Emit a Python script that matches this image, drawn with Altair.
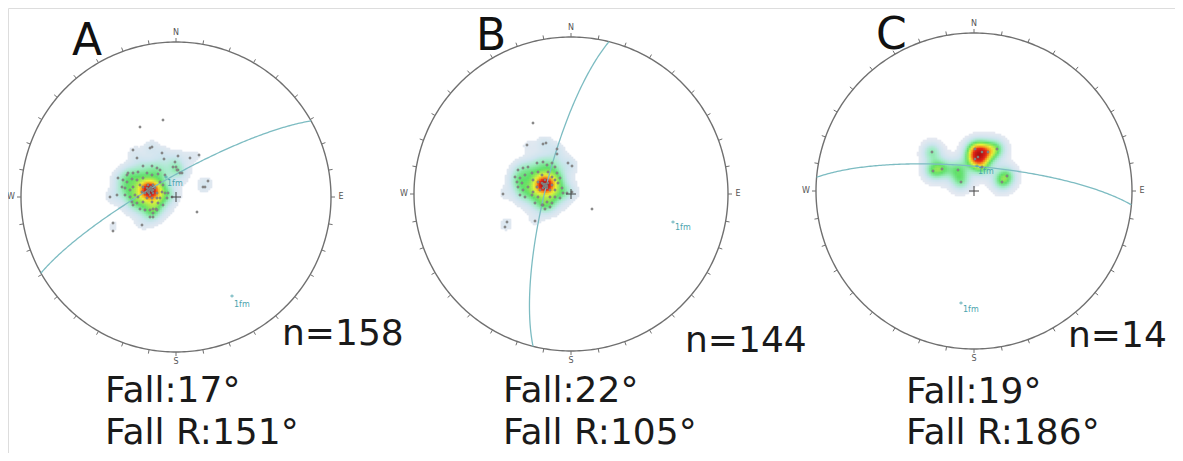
import numpy as np
import pandas as pd
import altair as alt

# ---------------- data (page pixel coordinates) ----------------
panels = ["A", "B", "C"]
count_labels = ["n=158", "n=144", "n=14"]
fall_labels = ["Fall:17°", "Fall:22°", "Fall:19°"]
fall_r_labels = ["Fall R:151°", "Fall R:105°", "Fall R:186°"]

# great circle of each panel: dip direction and dip (degrees)
plane_dipdir = [330.6, 284.0, 5.0]
plane_dip = [79.6, 76.6, 77.3]

poles_A = [
    (163, 120), (140, 127), (150, 148), (152, 147), (133, 150), (162, 153), (137, 158),
    (178, 156), (164, 159), (175, 162), (190, 158), (199, 155), (176, 167), (178, 170),
    (182, 173), (127, 175), (118, 178), (208, 181), (203, 187), (205, 187), (110, 197),
    (197, 212), (113, 223), (113, 231), (142, 225), (153, 209), (156, 209), (133, 205),
    (143, 166), (152, 166), (157, 168), (160, 170), (173, 167), (177, 170), (180, 173),
    (128, 173), (133, 173), (138, 172), (147, 173), (152, 175), (158, 174), (165, 175),
    (123, 180), (127, 182), (132, 179), (137, 180), (143, 178), (160, 182), (163, 185),
    (122, 187), (125, 188), (130, 190), (133, 187), (162, 192), (165, 193), (168, 193),
    (117, 195), (125, 195), (130, 197), (135, 195), (160, 198), (167, 198), (172, 197),
    (132, 202), (137, 203), (143, 202), (152, 202), (158, 203), (163, 205),
    (140, 209), (145, 210), (150, 210), (153, 213), (157, 210), (150, 217), (153, 217),
    (143, 187), (147, 188), (148, 192), (152, 190), (153, 193), (150, 195), (145, 193),
    (155, 188), (142, 192), (157, 193), (148, 185), (153, 185), (140, 185), (138, 197),
    (157, 198), (147, 198), (152, 198), (150, 190), (149, 191), (151, 189), (148, 189),
    (152, 191), (150, 188), (147, 191), (153, 190), (149, 193), (151, 187),
]
poles_B = [
    (533, 123), (543, 144), (546, 143), (527, 145), (557, 149), (557, 154), (568, 163),
    (572, 166), (503, 194), (507, 222), (505, 227), (535, 221), (543, 205), (545, 209),
    (550, 207), (592, 209),
    (518, 170), (523, 168), (528, 167), (537, 163), (543, 162), (547, 165), (552, 163),
    (555, 167), (515, 177), (520, 178), (517, 182), (522, 183), (525, 175), (532, 173),
    (538, 172), (548, 172), (557, 173), (560, 178), (518, 187), (523, 190), (528, 187),
    (558, 183), (562, 188), (563, 193), (520, 195), (525, 197), (532, 195), (555, 197),
    (560, 198), (567, 193), (572, 192), (535, 203), (542, 205), (547, 202), (552, 203),
    (533, 180), (555, 180), (533, 192), (555, 190), (538, 197), (550, 197), (542, 175),
    (552, 177),
    (538, 182), (542, 183), (545, 185), (548, 183), (543, 188), (547, 188), (540, 190),
    (550, 190), (545, 180), (537, 187), (552, 185), (545, 185), (544, 186), (546, 184),
    (543, 184), (547, 186), (545, 187), (546, 186), (544, 184),
]
poles_C = [
    (932, 152), (933, 171), (942, 169), (958, 170), (961, 182), (975, 149), (982, 152),
    (988, 152), (997, 149), (978, 157), (975, 159), (1007, 176), (1002, 182), (982, 167),
]
poles = [poles_A, poles_B, poles_C]

# ---------------- layout / style ----------------
net_center = [(176, 197), (571, 194), (974, 191)]
net_radius = [155, 157, 158]
kde_bw_small = [5.5, 5.5, 6.5]
kde_bw_large = [13.0, 13.0, 10.0]
kde_mix = [0.3, 0.3, 0.35]
kde_cut = [0.07, 0.07, 0.05]
letter_pos = [(72, 55), (476, 50), (876, 49)]
count_pos = [(282, 345), (685, 352), (1068, 347)]
fall_pos = [(105, 402), (503, 402), (906, 403)]
fall_r_pos = [(105, 444), (503, 444), (906, 444)]
fm_marks = [(166, 177, 167, 186), (232, 296, 234, 307),
            (673, 222, 675, 230),
            (977, 166, 978, 174), (961, 303, 963, 312)]


def kernel_sum(P, X, Y, h):
    D = np.zeros_like(X)
    for px, py in P:
        D += np.exp(-((X - px) ** 2 + (Y - py) ** 2) / (2 * h * h))
    return D / D.max()


dens_rows, circ_rows, tick_rows, gc_rows, pt_rows, cross_rows, card_rows = [], [], [], [], [], [], []
step = 2.0
for k, p in enumerate(panels):
    cx, cy = net_center[k]
    R = net_radius[k]
    P = np.array(poles[k], dtype=float)
    hl = kde_bw_large[k]
    xs = np.arange(P[:, 0].min() - 3 * hl, P[:, 0].max() + 3 * hl, step)
    ys = np.arange(P[:, 1].min() - 3 * hl, P[:, 1].max() + 3 * hl, step)
    X, Y = np.meshgrid(xs, ys)
    w = kde_mix[k]
    D = (1 - w) * kernel_sum(P, X, Y, kde_bw_small[k]) + w * kernel_sum(P, X, Y, hl)
    D /= D.max()
    m = (D > kde_cut[k]) & ((X - cx) ** 2 + (Y - cy) ** 2 < R * R)
    for x, y, d in zip(X[m], Y[m], D[m]):
        dens_rows.append(dict(panel=p, x=x - step / 2 - 0.3, x2=x + step / 2 + 0.3,
                              y=y - step / 2 - 0.3, y2=y + step / 2 + 0.3, d=d))
    for i, a in enumerate(np.radians(np.arange(0, 361, 1))):
        circ_rows.append(dict(panel=p, i=i, x=cx + R * np.sin(a), y=cy - R * np.cos(a)))
    for a in np.radians(np.arange(0, 360, 10)):
        tick_rows.append(dict(x=cx + R * np.sin(a), y=cy - R * np.cos(a),
                              x2=cx + (R + 4) * np.sin(a), y2=cy - (R + 4) * np.cos(a)))
    dd, dip = np.radians(plane_dipdir[k]), np.radians(plane_dip[k])
    st = dd - np.pi / 2
    S = np.array([np.cos(st), np.sin(st), 0.0])
    Dv = np.array([np.cos(dip) * np.cos(dd), np.cos(dip) * np.sin(dd), np.sin(dip)])
    t = np.linspace(0, np.pi, 181)
    V = np.outer(np.cos(t), S) + np.outer(np.sin(t), Dv)
    plunge = np.arcsin(np.clip(V[:, 2], -1, 1))
    trend = np.arctan2(V[:, 1], V[:, 0])
    rho = np.sqrt(2) * np.sin((np.pi / 2 - plunge) / 2)
    for i in range(len(t)):
        gc_rows.append(dict(panel=p, i=i, x=cx + R * rho[i] * np.sin(trend[i]),
                            y=cy - R * rho[i] * np.cos(trend[i])))
    for px, py in P:
        pt_rows.append(dict(panel=p, x=px, y=py))
    cross_rows += [dict(x=cx - 5, x2=cx + 5, y=cy, y2=cy), dict(x=cx, x2=cx, y=cy - 5, y2=cy + 5)]
    card_rows += [dict(t="N", x=cx, y=cy - R - 9), dict(t="S", x=cx, y=cy + R + 10),
                  dict(t="W", x=cx - R - 10, y=cy), dict(t="E", x=cx + R + 10, y=cy)]

dens = pd.DataFrame(dens_rows)
circ = pd.DataFrame(circ_rows)
ticks = pd.DataFrame(tick_rows)
gc = pd.DataFrame(gc_rows)
pts = pd.DataFrame(pt_rows)
cross = pd.DataFrame(cross_rows)
card = pd.DataFrame(card_rows)
fm_pts = pd.DataFrame([dict(x=a, y=b) for a, b, _, _ in fm_marks])
fm_txt = pd.DataFrame([dict(x=c, y=d, t="1fm") for _, _, c, d in fm_marks])
letters = pd.DataFrame([dict(x=letter_pos[k][0], y=letter_pos[k][1], t=panels[k]) for k in range(3)])
big = pd.DataFrame(
    [dict(x=count_pos[k][0], y=count_pos[k][1], t=count_labels[k]) for k in range(3)]
    + [dict(x=fall_pos[k][0], y=fall_pos[k][1], t=fall_labels[k]) for k in range(3)]
    + [dict(x=fall_r_pos[k][0], y=fall_r_pos[k][1], t=fall_r_labels[k]) for k in range(3)]
)

xsc = alt.Scale(domain=[8, 1175], nice=False, zero=False)
ysc = alt.Scale(domain=[8, 453], nice=False, zero=False, reverse=True)
X = alt.X("x:Q", scale=xsc, axis=None)
Y = alt.Y("y:Q", scale=ysc, axis=None)
X2 = alt.X2("x2:Q")
Y2 = alt.Y2("y2:Q")
FONT = "DejaVu Sans"

dens_layer = alt.Chart(dens).mark_rect(strokeWidth=0).encode(
    x=X, x2=X2, y=Y, y2=Y2,
    color=alt.Color("d:Q", legend=None, scale=alt.Scale(
        domain=[0.05, 0.16, 0.26, 0.38, 0.55, 0.68, 0.8, 1.0],
        range=["#e6e9f1", "#cde4ee", "#a2ecc6", "#5fe06a", "#e8f23a", "#f5a020", "#e82a1a", "#b01010"],
        interpolate="rgb", clamp=True)),
)
circ_layer = alt.Chart(circ).mark_line(color="#707070", strokeWidth=1.4).encode(
    x=X, y=Y, order="i:Q", detail="panel:N")
tick_layer = alt.Chart(ticks).mark_rule(color="#707070", strokeWidth=1).encode(x=X, y=Y, x2=X2, y2=Y2)
gc_layer = alt.Chart(gc).mark_line(color="#7dbcc2", strokeWidth=1.3).encode(
    x=X, y=Y, order="i:Q", detail="panel:N")
pt_layer = alt.Chart(pts).mark_circle(size=6, color="#8c8c8c", opacity=0.95, stroke="#6a6a6a",
                                      strokeWidth=0.3).encode(x=X, y=Y)
cross_layer = alt.Chart(cross).mark_rule(color="#444444", strokeWidth=1).encode(x=X, y=Y, x2=X2, y2=Y2)
fm_pt_layer = alt.Chart(fm_pts).mark_point(shape="cross", size=10, filled=True, color="#4aa3ad").encode(x=X, y=Y)
fm_txt_layer = alt.Chart(fm_txt).mark_text(font=FONT, fontSize=8, color="#4aa3ad", align="left",
                                           baseline="alphabetic").encode(x=X, y=Y, text="t:N")
card_layer = alt.Chart(card).mark_text(font=FONT, fontSize=8, color="#555555", align="center",
                                       baseline="middle").encode(x=X, y=Y, text="t:N")
letter_layer = alt.Chart(letters).mark_text(font=FONT, fontSize=44, color="#111111", align="left",
                                            baseline="alphabetic").encode(x=X, y=Y, text="t:N")
big_layer = alt.Chart(big).mark_text(font=FONT, fontSize=36, color="#1a1a1a", align="left",
                                     baseline="alphabetic").encode(x=X, y=Y, text="t:N")

chart = alt.layer(
    dens_layer, circ_layer, tick_layer, gc_layer, pt_layer, cross_layer,
    fm_pt_layer, fm_txt_layer, card_layer, letter_layer, big_layer,
).properties(width=1167, height=445, padding=0, autosize=alt.AutoSizeParams(type="none")
).configure_view(stroke=None).configure(background="white")

chart.save("out.html", embed_options={"renderer": "svg", "actions": False})
